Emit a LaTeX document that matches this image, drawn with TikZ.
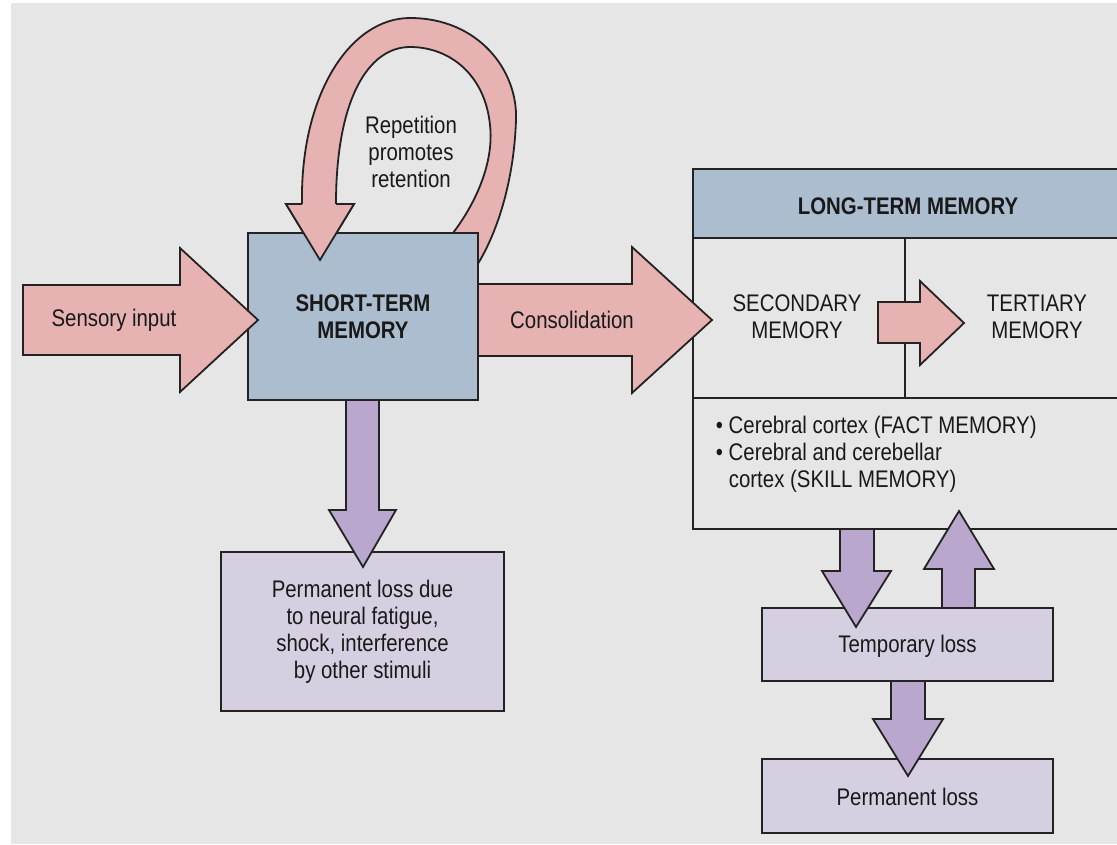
\documentclass[tikz,border=0pt]{standalone}
\usepackage{fontspec}
\setmainfont{Liberation Sans}[FakeStretch=0.85]
\definecolor{bgc}{RGB}{230,230,230}
\definecolor{pinkc}{RGB}{230,178,178}
\definecolor{bluec}{RGB}{172,189,208}
\definecolor{purplec}{RGB}{186,167,206}
\definecolor{lavc}{RGB}{214,207,225}
\definecolor{linec}{RGB}{35,35,35}
\begin{document}
\begin{tikzpicture}[x=1pt,y=-1pt,line width=1.8pt,line join=miter,
  lbl/.style={font=\fontsize{24}{27}\selectfont,align=center,inner sep=0pt,text=black!90},
  boldlbl/.style={lbl,font=\fontsize{24}{27}\selectfont\bfseries},
  box/.style={draw=linec,rectangle,inner sep=0pt},
  pinkarrow/.style={draw=linec,fill=pinkc},
  purparrow/.style={draw=linec,fill=purplec}]
\useasboundingbox (0,0) rectangle (1117,844);
\fill[white] (0,0) rectangle (1117,844);
\fill[bgc] (11,3) rectangle (1117,844);

% loop arrow (tail hidden behind the box)
\path[pinkarrow] (453,233) .. controls (478,200) and (494,160) .. (490,125)
  .. controls (485,75) and (450,47) .. (410,47)
  .. controls (368,47) and (336,100) .. (336,204)
  -- (354,204) -- (320,260) -- (286,204) -- (302,204)
  .. controls (300,95) and (350,18) .. (410,18)
  .. controls (478,18) and (518,70) .. (516,120)
  .. controls (514,180) and (498,230) .. (479,262) -- cycle;

% short-term memory
\node[box,fill=bluec,minimum width=230,minimum height=167] (stm) at (363,316.5) {};
\node[boldlbl] (stmt) at (363,317) {SHORT-TERM\\MEMORY};

% loop arrow head over the box
\fill[pinkc] (286,204) -- (354,204) -- (320,260) -- cycle;
\draw[linec] (302,204) -- (286,204) -- (320,260) -- (354,204) -- (336,204);
\node[lbl] (rep) at (411,152) {Repetition\\promotes\\retention};

% sensory input arrow
\draw[pinkarrow] (23,285) -- (180,285) -- (180,248) -- (258,320) -- (180,392) -- (180,355) -- (23,355) -- cycle;
\node[lbl] (sens) at (114,320) {Sensory input};

% permanent loss due box
\node[box,fill=lavc,minimum width=283,minimum height=159] (ploss) at (362.5,631.5) {};
\node[lbl] (plosst) at (362.5,632) {Permanent loss due\\to neural fatigue,\\shock, interference\\by other stimuli};
\draw[purparrow] (346,400) -- (346,510) -- (329,510) -- (363,567) -- (396,510) -- (379,510) -- (379,400) -- cycle;

% long-term memory
\node[box,fill=bluec,minimum width=430,minimum height=69] (ltmh) at (908,203.5) {};
\node[boldlbl] (ltmt) at (908,206) {LONG-TERM MEMORY};
\draw[linec] (693,238) -- (693,529) -- (1123,529);
\draw[linec] (693,398) -- (1123,398);
\draw[linec] (905,238) -- (905,398);
\node[lbl] (sec) at (797,317) {SECONDARY\\MEMORY};
\node[lbl] (ter) at (1037,317) {TERTIARY\\MEMORY};
\draw[pinkarrow] (878,302) -- (920,302) -- (920,281) -- (964,323) -- (920,365) -- (920,343) -- (878,343) -- cycle;
\node[lbl,anchor=base west] (b1) at (715,433) {\textbullet\ Cerebral cortex (FACT MEMORY)};
\node[lbl,anchor=base west] (b2) at (715,460) {\textbullet\ Cerebral and cerebellar};
\node[lbl,anchor=base west] (b3) at (728,487) {cortex (SKILL MEMORY)};

% consolidation arrow
\draw[pinkarrow] (478,284) -- (632,284) -- (632,247) -- (712,320) -- (632,393) -- (632,356) -- (478,356) -- cycle;
\node[lbl] (cons) at (572,320) {Consolidation};

% temporary and permanent loss
\node[box,fill=lavc,minimum width=291,minimum height=73] (tloss) at (907.5,644.5) {};
\node[lbl] (tlosst) at (907.5,646) {Temporary loss};
\node[box,fill=lavc,minimum width=291,minimum height=74] (perm) at (907.5,796) {};
\node[lbl] (permt) at (907.5,797) {Permanent loss};
\draw[purparrow] (840,529) -- (840,571) -- (822,571) -- (856,627) -- (891,571) -- (874,571) -- (874,529) -- cycle;
\draw[purparrow] (942,608) -- (942,569) -- (924,569) -- (959,511) -- (994,569) -- (975,569) -- (975,608) -- cycle;
\draw[purparrow] (891,681) -- (891,719) -- (873,719) -- (908,776) -- (943,719) -- (925,719) -- (925,681) -- cycle;
\end{tikzpicture}
\end{document}
